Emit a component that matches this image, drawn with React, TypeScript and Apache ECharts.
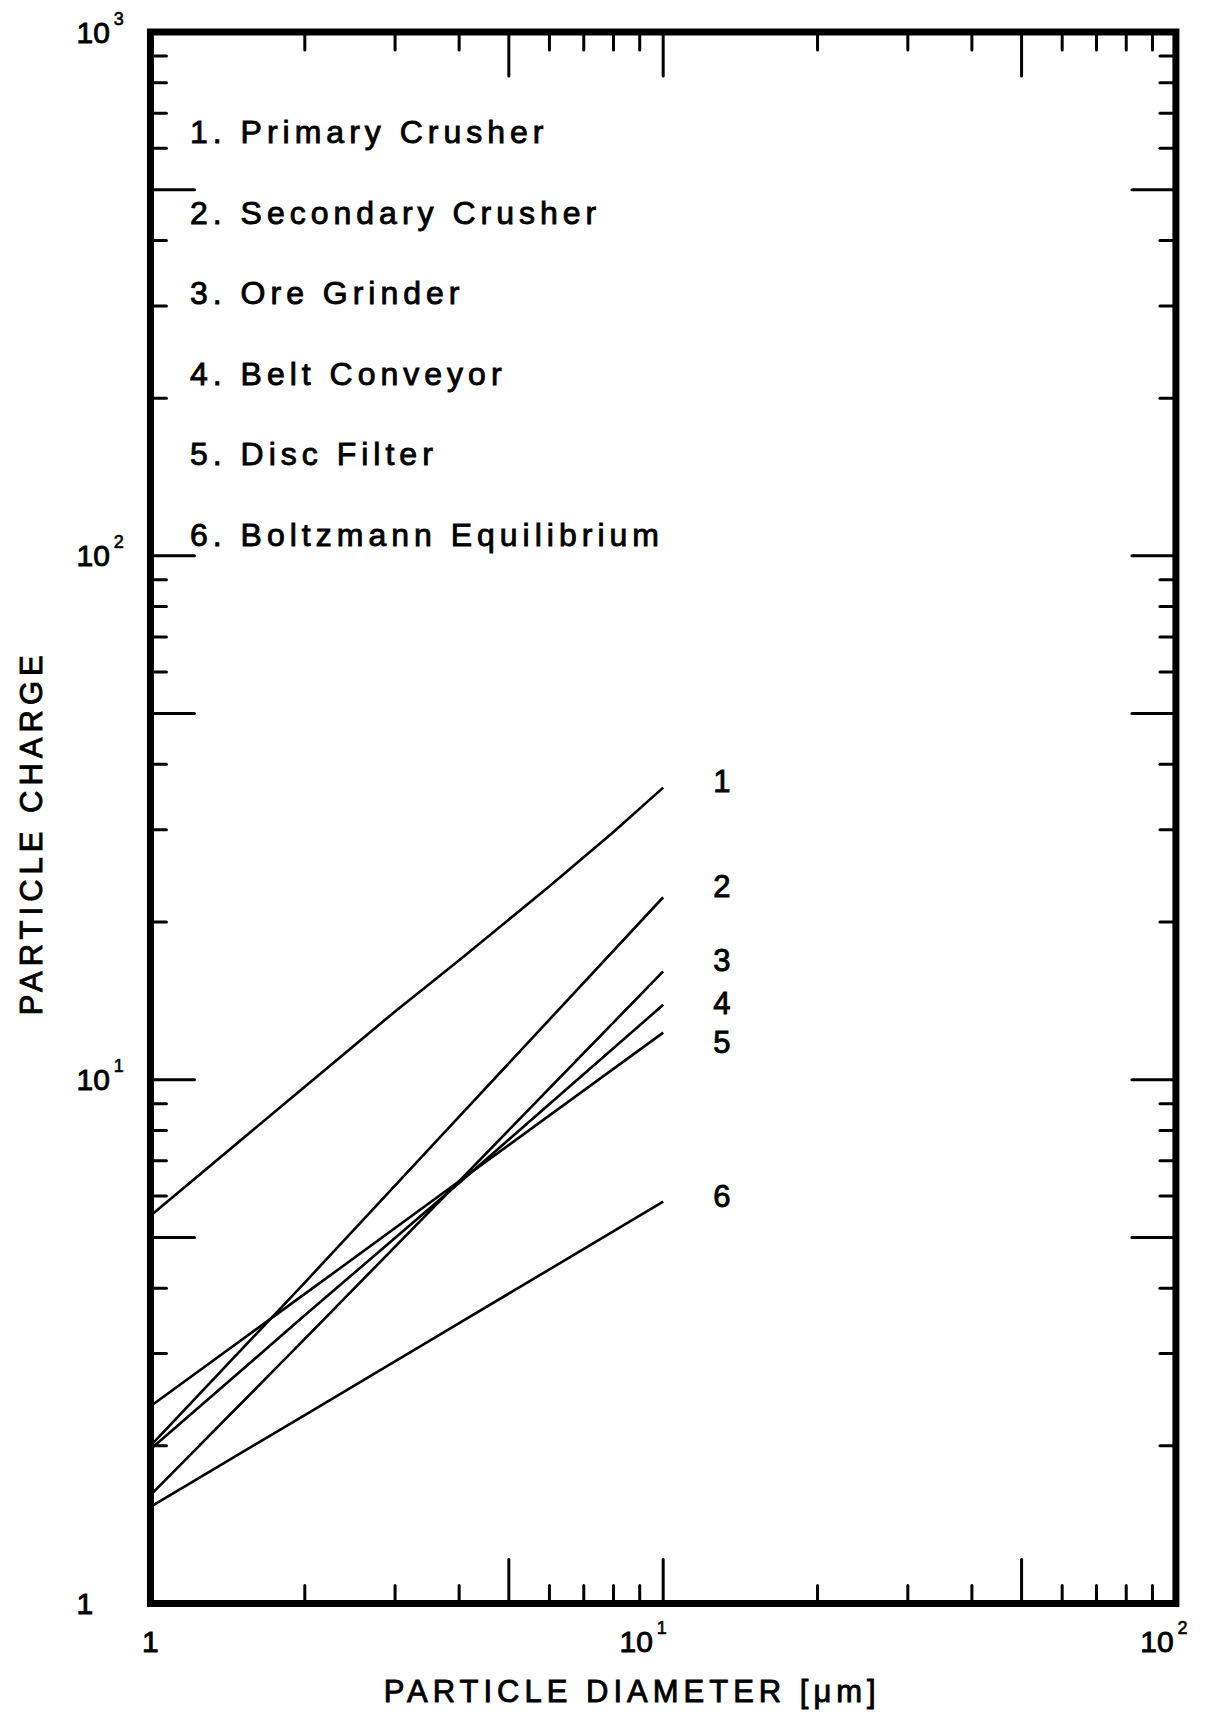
import React, { useEffect, useRef } from "react";
import * as echarts from "echarts";

// ---- data ----
const SERIES_NAMES = [
  "1. Primary Crusher",
  "2. Secondary Crusher",
  "3. Ore Grinder",
  "4. Belt Conveyor",
  "5. Disc Filter",
  "6. Boltzmann Equilibrium",
];
const CURVE_TAGS = ["1", "2", "3", "4", "5", "6"];

const PRIMARY_D = [1, 2, 3, 4, 6, 8, 10];
const PRIMARY_Q = [5.5, 9.7, 13.5, 16.9, 23.4, 29.7, 36.1];
const SECONDARY_D = [1, 2, 4, 10];
const SECONDARY_Q = [2.0, 4.1, 8.5, 22.3];
const ORE_D = [1, 2, 4, 10];
const ORE_Q = [1.61, 3.2, 6.4, 16.1];
const BELT_D = [1, 2, 4, 10];
const BELT_Q = [1.97, 3.55, 6.35, 13.9];
const DISC_D = [1, 2, 4, 10];
const DISC_Q = [2.38, 3.9, 6.4, 12.3];
const BOLTZ_D = [1, 2, 4, 10];
const BOLTZ_Q = [1.53, 2.29, 3.43, 5.85];

const X_TICKS_MINOR = [2, 3, 4, 6, 7, 8, 9, 20, 30, 40, 60, 70, 80, 90];
const X_TICKS_MAJOR = [5, 10, 50];
const Y_TICKS_MINOR = [2, 3, 4, 6, 7, 8, 9, 20, 30, 40, 60, 70, 80, 90, 200, 300, 400, 600, 700, 800, 900];
const Y_TICKS_MAJOR = [5, 10, 50, 100, 500];

// ---- styles ----
const SPACED = "'Liberation Sans', Helvetica, sans-serif";
const PLAIN = "'Liberation Sans', Arial, sans-serif";
const TAG_OFFSETS = [-6, -11, -11, -1, 10, -5];
const INK = { color: "#000", textBorderColor: "#000", textBorderWidth: 0.9 };

const SERIES_D = [PRIMARY_D, SECONDARY_D, ORE_D, BELT_D, DISC_D, BOLTZ_D];
const SERIES_Q = [PRIMARY_Q, SECONDARY_Q, ORE_Q, BELT_Q, DISC_Q, BOLTZ_Q];

const richLabels = {
  b: { fontSize: 30, lineHeight: 45, verticalAlign: "middle", fontFamily: PLAIN, ...INK },
  s: { fontSize: 18, verticalAlign: "top", padding: [0, 0, 0, 4], fontFamily: PLAIN, ...INK, textBorderWidth: 0.6 },
  p: { width: 40, fontSize: 10 },
  q: { width: 24, fontSize: 10 },
};

function expOf(v: number) {
  return Math.round(Math.log10(v));
}

function fmtY(v: number) {
  const e = expOf(v);
  return e === 0 ? "{b|1}" : `{b|10}{s|${e}}`;
}

function fmtX(v: number) {
  const e = expOf(v);
  if (e === 0) return "{b|1}";
  return e === 1 ? `{b|10}{s|${e}}{p| }` : `{b|10}{s|${e}}{q| }`;
}

function buildOption() {
  const lineSeries = SERIES_NAMES.map((name, i) => ({
    type: "line",
    name,
    data: SERIES_D[i].map((d, j) => [d, SERIES_Q[i][j]]),
    showSymbol: false,
    symbol: "none",
    smooth: false,
    silent: true,
    z: 3,
    lineStyle: { color: "#000", width: 2.6, join: "round" },
    itemStyle: { color: "#000" },
    endLabel: {
      show: true,
      formatter: CURVE_TAGS[i],
      distance: 50,
      offset: [0, TAG_OFFSETS[i]],
      fontSize: 31,
      fontFamily: PLAIN,
      ...INK,
    },
  }));

  const tickStyle = { stroke: "#000", lineWidth: 3, lineCap: "round" };

  const xTickData = [
    ...X_TICKS_MINOR.map((v) => [v, 1, 0]),
    ...X_TICKS_MAJOR.map((v) => [v, 1, 1]),
  ];
  const yTickData = [
    ...Y_TICKS_MINOR.map((v) => [1, v, 0]),
    ...Y_TICKS_MAJOR.map((v) => [1, v, 1]),
  ];

  const xTickSeries = {
    type: "custom",
    name: "xticks",
    coordinateSystem: "cartesian2d",
    silent: true,
    z: 5,
    encode: { x: 0, y: 1 },
    data: xTickData,
    renderItem: (params: any, api: any) => {
      const v = api.value(0);
      const len = api.value(2) ? 44 : 18;
      const b = api.coord([v, 1]);
      const t = api.coord([v, 1000]);
      return {
        type: "group",
        children: [
          { type: "line", shape: { x1: b[0], y1: b[1], x2: b[0], y2: b[1] - len }, style: tickStyle },
          { type: "line", shape: { x1: t[0], y1: t[1], x2: t[0], y2: t[1] + len }, style: tickStyle },
        ],
      };
    },
  };

  const yTickSeries = {
    type: "custom",
    name: "yticks",
    coordinateSystem: "cartesian2d",
    silent: true,
    z: 5,
    encode: { x: 0, y: 1 },
    data: yTickData,
    renderItem: (params: any, api: any) => {
      const v = api.value(1);
      const len = api.value(2) ? 44 : 16;
      const l = api.coord([1, v]);
      const r = api.coord([100, v]);
      return {
        type: "group",
        children: [
          { type: "line", shape: { x1: l[0], y1: l[1], x2: l[0] + len, y2: l[1] }, style: tickStyle },
          { type: "line", shape: { x1: r[0], y1: r[1], x2: r[0] - len, y2: r[1] }, style: tickStyle },
        ],
      };
    },
  };

  return {
    animation: false,
    backgroundColor: "#ffffff",
    textStyle: { fontFamily: PLAIN, color: "#000" },
    grid: {
      left: 142,
      top: 24,
      width: 1037,
      height: 1575,
      show: true,
      borderColor: "#000",
      borderWidth: 7,
      backgroundColor: "transparent",
    },
    legend: {
      data: SERIES_NAMES,
      orient: "vertical",
      left: 177,
      top: 108,
      padding: 0,
      icon: "rect",
      itemWidth: 0,
      itemHeight: 32,
      itemGap: 47.6,
      itemStyle: { opacity: 0 },
      selectedMode: false,
      textStyle: { fontSize: 32, fontFamily: SPACED, lineHeight: 32, ...INK },
    },
    xAxis: {
      type: "log",
      logBase: 10,
      min: 1,
      max: 100,
      axisLine: { show: false },
      axisTick: { show: false },
      minorTick: { show: false },
      splitLine: { show: false },
      axisLabel: {
        margin: 15,
        formatter: fmtX,
        rich: richLabels,
        showMinLabel: true,
        showMaxLabel: true,
      },
      name: "PARTICLE DIAMETER [μm]",
      nameLocation: "middle",
      nameGap: 72,
      nameTextStyle: { fontSize: 31, fontFamily: SPACED, padding: [0, 62, 0, 0], ...INK },
    },
    yAxis: {
      type: "log",
      logBase: 10,
      min: 1,
      max: 1000,
      axisLine: { show: false },
      axisTick: { show: false },
      minorTick: { show: false },
      splitLine: { show: false },
      axisLabel: {
        margin: 74,
        align: "left",
        formatter: fmtY,
        rich: richLabels,
        showMinLabel: true,
        showMaxLabel: true,
      },
      name: "PARTICLE CHARGE",
      nameLocation: "middle",
      nameGap: 103,
      nameTextStyle: { fontSize: 31, fontFamily: SPACED, padding: [0, 30, 0, 0], ...INK },
    },
    series: [...lineSeries, xTickSeries, yTickSeries],
  };
}

export default function App() {
  const ref = useRef<HTMLDivElement>(null);
  useEffect(() => {
    if (!ref.current) return;
    const chart = echarts.init(ref.current, null, { renderer: "svg" });
    chart.setOption(buildOption() as any);
    return () => chart.dispose();
  }, []);
  return (
    <div>
      <style>{`.pc-chart text[style*="Helvetica"]{letter-spacing:5px}`}</style>
      <div ref={ref} className="pc-chart" style={{ width: 1196, height: 1704, background: "#fff" }} />
    </div>
  );
}
